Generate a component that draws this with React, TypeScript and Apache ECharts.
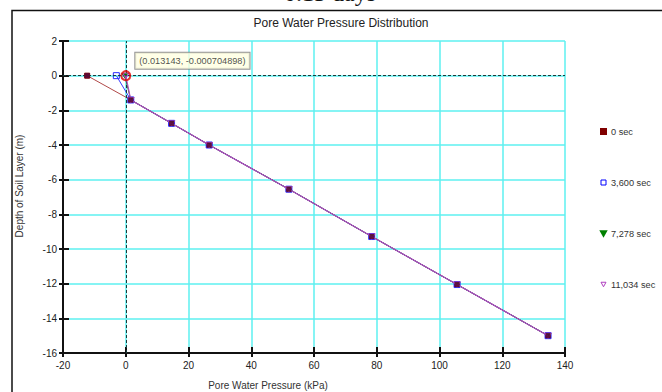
import React, { useEffect, useRef } from "react";
import * as echarts from "echarts";

// Pore water pressure (kPa) vs depth (m) at four elapsed times
const seriesNames = ["0 sec", "3,600 sec", "7,278 sec", "11,034 sec"];
const depths = [0, -1.4, -2.75, -4.0, -6.55, -9.28, -12.05, -15.0];
const pressure0 = [-12.3, 1.6, 14.6, 26.6, 52.0, 78.4, 105.6, 134.6];
const pressure3600 = [-3.0, 1.6, 14.6, 26.6, 52.0, 78.4, 105.6, 134.6];
const pressure7278 = [-0.3, 1.6, 14.6, 26.6, 52.0, 78.4, 105.6, 134.6];
const pressure11034 = [0.013143, 1.6, 14.6, 26.6, 52.0, 78.4, 105.6, 134.6];
const probePoint = [0.013143, -0.000704898];

const FONT = "Liberation Sans, Arial, sans-serif";
const downTri = "path://M0,0 L10,0 L5,9 Z";

const pairs = (xs: number[]) => xs.map((x, i) => [x, depths[i]]);

export default function App() {
  const ref = useRef<HTMLDivElement>(null);

  useEffect(() => {
    if (!ref.current) return;
    const chart = echarts.init(ref.current, undefined, { renderer: "svg" });

    const gridCyan = "#5ef0f0";
    const baseX = { type: "value", min: -20, max: 140, interval: 20, gridIndex: 0 };
    const baseY = { type: "value", min: -16, max: 2, interval: 2, gridIndex: 0 };

    const lineSeries = (
      name: string,
      xs: number[],
      symbol: string,
      symbolSize: number | number[],
      color: string,
      lineColor: string,
      hollow: boolean,
      z: number
    ) => ({
      name,
      type: "line",
      data: pairs(xs),
      symbol,
      symbolSize,
      showAllSymbol: true,
      lineStyle: { color: lineColor, width: 1 },
      itemStyle: hollow
        ? { color: "rgba(255,255,255,0)", borderColor: color, borderWidth: 1 }
        : { color, borderColor: color, borderWidth: 1 },
      emphasis: { disabled: true },
      z,
    });

    chart.setOption({
      animation: false,
      backgroundColor: "#ffffff",
      title: {
        text: "Pore Water Pressure Distribution",
        left: 336,
        top: 12,
        textAlign: "center",
        textStyle: { fontFamily: FONT, fontSize: 12, fontWeight: "normal", color: "#222" },
      },
      grid: { left: 63, right: 97, top: 41, bottom: 39 },
      legend: {
        orient: "vertical",
        left: 600,
        top: 127,
        padding: 0,
        itemGap: 42,
        itemWidth: 5,
        itemHeight: 5,
        textStyle: { fontFamily: FONT, fontSize: 9.2, color: "#333" },
        data: [
          { name: seriesNames[0], icon: "rect", itemStyle: { color: "#800000" } },
          {
            name: seriesNames[1],
            icon: "rect",
            itemStyle: { color: "#ffffff", borderColor: "#0000ff", borderWidth: 1 },
          },
          { name: seriesNames[2], icon: downTri, itemStyle: { color: "#008000" } },
          {
            name: seriesNames[3],
            icon: downTri,
            itemStyle: { color: "#ffffff", borderColor: "#b040c0", borderWidth: 1 },
          },
        ],
      },
      xAxis: [
        {
          ...baseX,
          position: "bottom",
          axisLine: { show: true, onZero: false, lineStyle: { color: "#111", width: 2 } },
          axisTick: { show: true, inside: false, length: 4, lineStyle: { color: "#111", width: 2 } },
          axisLabel: { fontFamily: FONT, fontSize: 10, color: "#222", margin: 7 },
          splitLine: { show: true, lineStyle: { color: gridCyan, width: 1.5 } },
        },
        {
          ...baseX,
          position: "bottom",
          axisLine: { show: false, onZero: false },
          axisTick: { show: true, inside: true, length: 6, lineStyle: { color: "#111", width: 2 } },
          axisLabel: { show: false },
          splitLine: { show: false },
        },
      ],
      yAxis: [
        {
          ...baseY,
          position: "left",
          axisLine: { show: true, onZero: false, lineStyle: { color: "#111", width: 2 } },
          axisTick: { show: true, inside: false, length: 4, lineStyle: { color: "#111", width: 2 } },
          axisLabel: { fontFamily: FONT, fontSize: 10, color: "#222", margin: 6 },
          splitLine: { show: true, lineStyle: { color: gridCyan, width: 1.5 } },
        },
        {
          ...baseY,
          position: "left",
          axisLine: { show: false, onZero: false },
          axisTick: { show: true, inside: true, length: 6, lineStyle: { color: "#111", width: 2 } },
          axisLabel: { show: false },
          splitLine: { show: false },
        },
      ],
      series: [
        {
          ...lineSeries(seriesNames[0], pressure0, "rect", 5, "#800000", "#b04848", false, 2),
          markLine: {
            silent: true,
            symbol: "none",
            label: { show: false },
            lineStyle: { color: "#1a3a3a", type: [3, 2], width: 1 },
            data: [{ xAxis: 0 }, { yAxis: 0 }],
          },
        },
        lineSeries(seriesNames[1], pressure3600, "rect", 6, "#2a2aff", "#3b3bff", true, 3),
        lineSeries(seriesNames[2], pressure7278, downTri, [5, 4], "#008000", "#206020", false, 4),
        {
          ...lineSeries(seriesNames[3], pressure11034, downTri, [6, 5], "#b040c0", "#b050c0", true, 5),
          lineStyle: { color: "#b050c0", width: 1.2 },
        },
        // filled squares of the initial profile sit above the later profiles' markers
        {
          name: seriesNames[0],
          type: "scatter",
          data: pairs(pressure0),
          symbol: "rect",
          symbolSize: 5,
          itemStyle: { color: "#5a0a3a", opacity: 0.9 },
          emphasis: { disabled: true },
          z: 6,
        },
        {
          name: "probe",
          type: "scatter",
          data: [probePoint],
          symbol: "circle",
          symbolSize: 9,
          itemStyle: { color: "rgba(0,0,0,0)", borderColor: "#e00000", borderWidth: 2 },
          label: {
            show: true,
            position: "right",
            distance: 4,
            offset: [0, -15],
            formatter: () => `(${probePoint[0]}, ${probePoint[1]})`,
            fontFamily: FONT,
            fontSize: 9.2,
            color: "#222",
            backgroundColor: "#ffffe1",
            borderColor: "#7a7a7a",
            borderWidth: 1,
            padding: [4, 4, 3, 4],
          },
          emphasis: { disabled: true },
          z: 7,
        },
      ],
      graphic: [
        {
          type: "polyline",
          shape: { points: [[12, 392], [12, 10.5], [662, 10.5]] },
          style: { stroke: "#111", lineWidth: 1.5, fill: "none" },
          silent: true,
        },
        {
          type: "text",
          x: 330,
          y: -19,
          style: {
            text: "0.13 days",
            font: "24px 'Liberation Serif', 'Times New Roman', serif",
            fill: "#111",
            textAlign: "center",
          },
          silent: true,
        },
        {
          type: "text",
          x: 268,
          y: 380,
          style: {
            text: "Pore Water Pressure (kPa)",
            font: `10px ${FONT}`,
            fill: "#333",
            textAlign: "center",
          },
          silent: true,
        },
        {
          type: "text",
          x: 14,
          y: 186,
          rotation: Math.PI / 2,
          style: {
            text: "Depth of Soil Layer (m)",
            font: `10px ${FONT}`,
            fill: "#333",
            textAlign: "center",
          },
          silent: true,
        },
      ],
    });

    return () => chart.dispose();
  }, []);

  return (
    <div
      ref={ref}
      style={{ position: "fixed", left: 0, top: 0, width: 662, height: 392 }}
    />
  );
}
